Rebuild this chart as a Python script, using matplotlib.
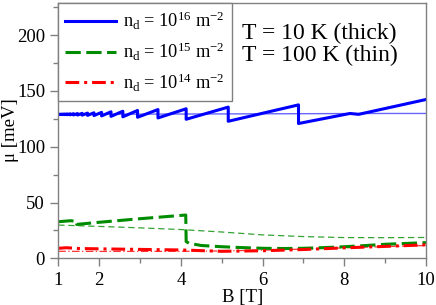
import matplotlib
matplotlib.use("Agg")
import matplotlib.pyplot as plt
from matplotlib.ticker import MultipleLocator, FixedLocator

plt.rcParams['font.family'] = ['Liberation Serif', 'DejaVu Serif']
plt.rcParams['mathtext.fontset'] = 'custom'
plt.rcParams['mathtext.rm'] = 'Liberation Serif'
plt.rcParams['mathtext.it'] = 'Liberation Serif:italic'
plt.rcParams['mathtext.default'] = 'rm'

# ---- data ----
# n_d = 1e16, T = 10 K (thick): sawtooth, jumps at these fields
blue_thick_start = (1.00, 129.0)
blue_thick_jump_B = [1.03, 1.084, 1.144, 1.212, 1.288, 1.373, 1.471, 1.585, 1.717,
                     1.873, 2.06, 2.29, 2.58, 2.94, 3.44, 4.13, 5.16, 6.88]
blue_thick_before = [129.1, 129.2, 129.3, 129.4, 129.5, 129.6, 129.7, 129.9, 130.1,
                     130.4, 130.8, 131.3, 131.8, 132.5, 133.3, 134.0, 135.5, 137.5]
blue_thick_after = [128.9, 128.8, 128.8, 128.7, 128.6, 128.5, 128.4, 128.3, 128.1,
                    127.9, 127.6, 127.2, 126.8, 126.4, 125.8, 124.6, 122.8, 120.8]
blue_thick_tail_B = [8.14, 8.35, 10.0]
blue_thick_tail_mu = [129.8, 129.0, 142.3]

# n_d = 1e16, T = 100 K (thin)
blue_thin_B = [1, 2, 3, 4, 5, 6, 7, 8, 9, 10]
blue_thin_mu = [129.0, 129.1, 129.2, 129.3, 129.4, 129.5, 129.6, 129.7, 129.8, 129.8]

# n_d = 1e15, T = 10 K (thick)
green_thick_B = [1.0, 1.3, 1.45, 1.45, 2.0, 3.0, 4.12, 4.13, 4.2, 4.5, 5.0, 5.5, 6.0,
                 6.5, 7.0, 7.5, 8.0, 8.5, 9.0, 9.5, 10.0]
green_thick_mu = [32.8, 33.7, 33.2, 30.4, 32.3, 35.5, 38.8, 15.0, 13.5, 11.5, 10.4, 9.6, 9.0,
                  8.8, 9.0, 9.6, 10.4, 11.4, 12.6, 13.3, 14.1]

# n_d = 1e15, T = 100 K (thin)
green_thin_B = [1, 2, 3, 4, 5, 6, 7, 8, 9, 10]
green_thin_mu = [29.8, 28.6, 27.3, 25.8, 23.6, 21.0, 19.5, 18.6, 18.5, 18.7]

# n_d = 1e14, T = 10 K (thick)
red_thick_B = [1.0, 1.2, 1.5, 2.0, 3.0, 4.0, 5.0, 6.0, 7.0, 8.0, 9.0, 10.0]
red_thick_mu = [9.0, 9.5, 8.8, 8.5, 8.0, 7.5, 6.3, 6.8, 7.9, 9.4, 10.7, 12.1]

# n_d = 1e14, T = 100 K (thin)
red_thin_B = [1, 2, 3, 4, 5, 6, 7, 8, 9, 10]
red_thin_mu = [6.3, 6.2, 6.2, 6.3, 6.6, 7.3, 8.3, 9.4, 10.5, 11.5]

labels = ['n$_{d}$ = 10$^{16}$ m$^{-2}$',
          'n$_{d}$ = 10$^{15}$ m$^{-2}$',
          'n$_{d}$ = 10$^{14}$ m$^{-2}$']
annotation = 'T = 10 K (thick)\nT = 100 K (thin)'

# build sawtooth path from data
bx = [blue_thick_start[0]]
by = [blue_thick_start[1]]
for b, hi, lo in zip(blue_thick_jump_B, blue_thick_before, blue_thick_after):
    bx += [b, b]
    by += [hi, lo]
bx += blue_thick_tail_B
by += blue_thick_tail_mu

fig = plt.figure(figsize=(4.36, 3.05), dpi=100)
ax = fig.add_axes([0.1337, 0.153, 0.977 - 0.1337, 0.991 - 0.153])

blue = '#0000ff'
green = '#008c00'
red = '#ff0000'

ax.plot(blue_thin_B, blue_thin_mu, color=blue, lw=1.0, alpha=0.6)
ax.plot(green_thin_B, green_thin_mu, color=green, lw=0.9, alpha=0.8, dashes=(5, 3))
ax.plot(red_thin_B, red_thin_mu, color=red, lw=0.9, alpha=0.8, dashes=(6, 2, 1, 2))

l1, = ax.plot(bx, by, color=blue, lw=2.2, label=labels[0])
l2, = ax.plot(green_thick_B, green_thick_mu, color=green, lw=2.2, dashes=(5, 1.8), label=labels[1])
l3, = ax.plot(red_thick_B, red_thick_mu, color=red, lw=2.2, dashes=(4.5, 1.6, 1, 1.6), label=labels[2])

ax.set_xlim(1, 10)
ax.set_ylim(0, 229)
ax.xaxis.set_major_locator(FixedLocator([1, 2, 4, 6, 8, 10]))
ax.xaxis.set_minor_locator(FixedLocator([3, 5, 7, 9]))
ax.yaxis.set_major_locator(MultipleLocator(50))
ax.yaxis.set_minor_locator(MultipleLocator(25))

gray = '#808080'
for s in ax.spines.values():
    s.set_color(gray)
    s.set_linewidth(1.0)
ax.tick_params(which='both', direction='out', color=gray, width=1.0, labelsize=13.5,
               labelcolor='black')
ax.tick_params(which='major', length=6)
ax.tick_params(which='minor', length=3.5)
ax.tick_params(axis='x', pad=4)

ax.set_xlabel('B [T]', fontsize=13.5, labelpad=0)
ax.set_ylabel('μ [meV]', fontsize=13.5)
ax.yaxis.set_label_coords(-0.108, 0.5)

leg = ax.legend(handles=[l1, l2, l3], loc='upper left', fontsize=13.2, frameon=True,
                fancybox=False, edgecolor=gray, framealpha=1, borderaxespad=0,
                handlelength=2.75, labelspacing=0.48, borderpad=0.38, handletextpad=0.4)
leg.get_frame().set_linewidth(1.0)

ax.text(0.50, 0.923, annotation, transform=ax.transAxes, fontsize=17, va='top', ha='left',
        linespacing=1.1)

fig.savefig('out.png', dpi=100)
